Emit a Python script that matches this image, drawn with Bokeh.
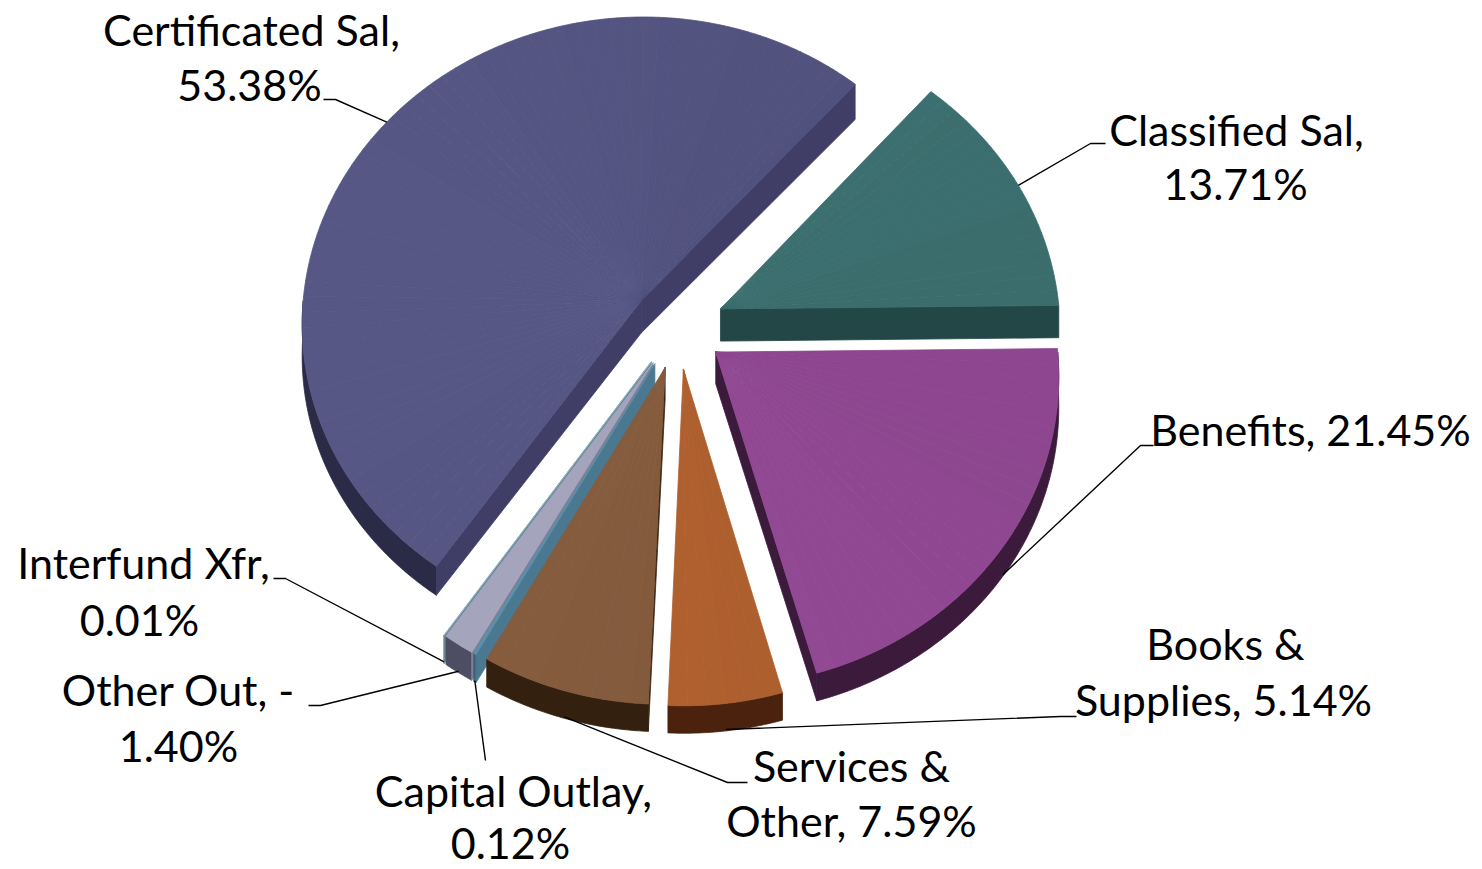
import math
import numpy as np
from bokeh.plotting import figure
from bokeh.models import Range1d
from bokeh.embed import file_html
from bokeh.resources import INLINE
from bokeh.core.properties import value

# ---------------- data ----------------
categories = ["Certificated Sal", "Classified Sal", "Benefits", "Books & Supplies",
              "Services & Other", "Capital Outlay", "Other Out", "Interfund Xfr"]
percents = [53.38, 13.71, 21.45, 5.14, 7.59, 0.12, -1.40, 0.01]
label_lines = [["Certificated Sal,", "53.38%"],
               ["Classified Sal,", "13.71%"],
               ["Benefits, 21.45%"],
               ["Books &", "Supplies, 5.14%"],
               ["Services &", "Other, 7.59%"],
               ["Capital Outlay,", "0.12%"],
               ["Other Out, -", "1.40%"],
               ["Interfund Xfr,", "0.01%"]]

# ---------------- styles ----------------
top_colors = ["#52537f", "#3e7373", "#944a96", "#b0602f", "#835a3d", "#5a8ca6", "#a0a0b8", "#8fb3c0"]
cut_colors = ["#403d67", "#234646", "#3b1a3b", "#4a220d", "#3a2514", "#4a7890", "#7e7e95", "#6a8a96"]
wall_colors = ["#2b2a47", "#234646", "#3b1a3b", "#4a220d", "#33200f", "#3c6275", "#4d4e64", "#5a7480"]

# label layout: (center x, baseline y) per line, and leader path (elbow, end)
TEXT_DY = -17
label_pos = [[(251, 46), (249, 101)],
             [(1236, 146), (1235, 200)],
             [(1310, 446)],
             [(1225, 660), (1223, 716)],
             [(851, 782), (851, 837)],
             [(513, 807), (510, 859)],
             [(178, 706), (178, 762)],
             [(143, 579), (139, 636)]]
leader_path = [[(335, 99), (323, 99)],
               [(1090, 143), (1105, 143)],
               [(1140, 445), (1153, 445)],
               [(1060, 716), (1076, 716)],
               [(727, 782), (747, 782)],
               [(485, 760), (485, 760)],
               [(320, 705), (308, 705)],
               [(285, 578), (273, 578)]]

W, H = 1482, 869
CX, CY = 677.5, 326.0
SX, SY = 340.0, 307.0
PERSP = 0.07
EXPLODE = 0.138
START = 235.6
GRAD = 0.07


def proj(X, Z, down=0.0):
    f = 1.0 / (1.0 + PERSP * Z)
    return CX + SX * X * f, CY - SY * Z * f + down * (32.0 + 4.0 * Z)


def shade(hexc, k):
    rgb = [int(hexc[j:j + 2], 16) for j in (1, 3, 5)]
    return "#%02x%02x%02x" % tuple(max(0, min(255, int(round(c * k)))) for c in rgb)


mags = [abs(v) for v in percents]
total = sum(mags)
slices = []
a = START
for i, m in enumerate(mags):
    sweep = m / total * 360.0
    lo, hi = a - sweep, a
    a = lo
    mid = math.radians((lo + hi) / 2.0)
    slices.append(dict(i=i, lo=lo, hi=hi, mid=mid,
                       ox=EXPLODE * math.cos(mid), oz=EXPLODE * math.sin(mid)))


def arc(s, t0, t1, down):
    n = max(2, int(abs(t1 - t0) / 0.5) + 2)
    return [proj(s["ox"] + math.cos(t), s["oz"] + math.sin(t), down)
            for t in np.radians(np.linspace(t0, t1, n))]


xs, ys, fills = [], [], []


def add(pts, color):
    xs.append([q[0] for q in pts])
    ys.append([q[1] for q in pts])
    fills.append(color)


for s in sorted(slices, key=lambda d: -math.sin(d["mid"])):
    i = s["i"]
    apex_t = proj(s["ox"], s["oz"], 0)
    apex_b = proj(s["ox"], s["oz"], 1)
    # outer wall (near half)
    for k in (-1, 0, 1):
        a0 = max(s["lo"], -180 + 360 * k)
        a1 = min(s["hi"], 360 * k)
        if a1 > a0:
            add(arc(s, a0, a1, 0) + arc(s, a1, a0, 1), wall_colors[i])
    # cut faces
    for th, vis in ((s["lo"], math.cos(math.radians(s["lo"])) > 0),
                    (s["hi"], math.cos(math.radians(s["hi"])) < 0)):
        if vis:
            t = math.radians(th)
            e_t = proj(s["ox"] + math.cos(t), s["oz"] + math.sin(t), 0)
            e_b = proj(s["ox"] + math.cos(t), s["oz"] + math.sin(t), 1)
            add([apex_t, e_t, e_b, apex_b], cut_colors[i])
    # top face in sub-wedges for a light gradient
    n = max(1, int(math.ceil((s["hi"] - s["lo"]) / 3.0)))
    edges = np.linspace(s["lo"], s["hi"], n + 1)
    for j in range(n):
        tm = math.radians((edges[j] + edges[j + 1]) / 2)
        xm = s["ox"] + 0.6 * math.cos(tm)
        add([apex_t] + arc(s, edges[j], edges[j + 1], 0), shade(top_colors[i], 1 - GRAD * xm))

p = figure(width=W, height=H, x_range=Range1d(0, W), y_range=Range1d(H, 0),
           output_backend="svg", toolbar_location=None, min_border=0,
           x_axis_type=None, y_axis_type=None)
p.grid.visible = False
p.outline_line_color = None
p.background_fill_color = "white"
p.border_fill_color = "white"

p.patches(xs, ys, fill_color=fills, line_color=fills, line_width=0.8)

# leader lines
lx, ly = [], []
for s in slices:
    i = s["i"]
    t = s["mid"]
    down = 0.0 if math.sin(t) > 0 else 0.95
    anc = proj(s["ox"] + math.cos(t), s["oz"] + math.sin(t), down)
    pts = [anc] + leader_path[i]
    lx.append([q[0] for q in pts])
    ly.append([q[1] for q in pts])
p.multi_line(lx, ly, line_color="black", line_width=1.4)

# labels
tx, ty, tt = [], [], []
for i, lines in enumerate(label_lines):
    for line, (x, y) in zip(lines, label_pos[i]):
        tx.append(x)
        ty.append(y + TEXT_DY)
        tt.append(line)
p.text(tx, ty, text=tt, text_align="center", text_baseline="alphabetic",
       text_font=value("Lato"), text_font_size="43px", text_color="black")

open("out.html", "w").write(file_html(p, INLINE))
